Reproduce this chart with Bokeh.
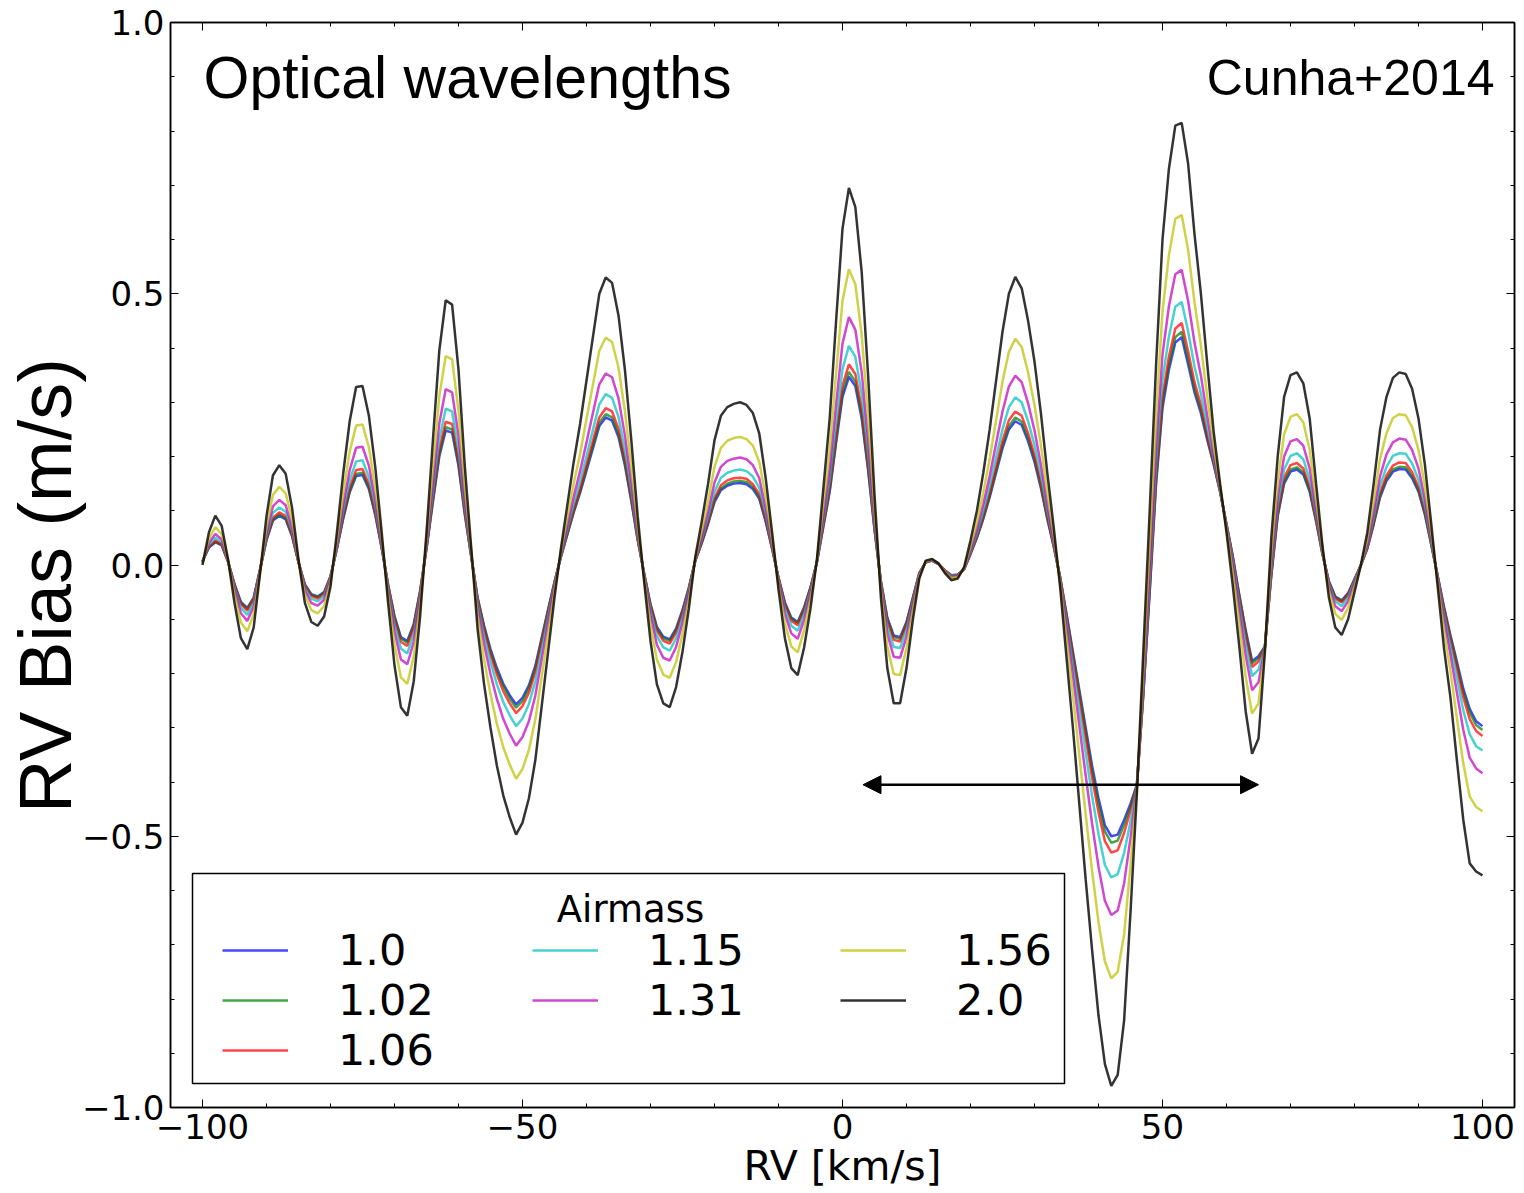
from math import pi
from bokeh.plotting import figure
from bokeh.models import (Range1d, SingleIntervalTicker, LinearAxis, CustomJSTickFormatter,
                          Legend, LegendItem, Label, Arrow, NormalHead, BoxAnnotation)
from bokeh.embed import file_html
from bokeh.resources import INLINE

# ---------------- data ----------------
RV = list(range(-100, 101))  # km/s

AIRMASS_LABELS = ["1.0", "1.02", "1.06", "1.15", "1.31", "1.56", "2.0"]

bias_100 = [
    0.007, 0.032, 0.042, 0.036, 0.006, -0.035, -0.068, -0.079, -0.060, -0.008,
    0.046, 0.082, 0.091, 0.084, 0.053, 0.005, -0.036, -0.054, -0.058, -0.050,
    -0.021, 0.030, 0.086, 0.134, 0.164, 0.166, 0.140, 0.092, 0.031, -0.036,
    -0.094, -0.133, -0.140, -0.109, -0.048, 0.030, 0.116, 0.200, 0.248, 0.244,
    0.183, 0.092, 0.015, -0.061, -0.112, -0.155, -0.190, -0.219, -0.240, -0.257,
    -0.245, -0.222, -0.186, -0.134, -0.082, -0.031, 0.015, 0.056, 0.097, 0.133,
    0.174, 0.215, 0.256, 0.272, 0.266, 0.236, 0.184, 0.118, 0.046, -0.015,
    -0.072, -0.114, -0.132, -0.137, -0.117, -0.083, -0.041, 0.008, 0.040, 0.076,
    0.116, 0.138, 0.146, 0.150, 0.151, 0.149, 0.140, 0.122, 0.080, 0.030,
    -0.023, -0.069, -0.097, -0.105, -0.078, -0.041, 0.005, 0.070, 0.135, 0.225,
    0.310, 0.347, 0.330, 0.270, 0.175, 0.065, -0.030, -0.097, -0.130, -0.133,
    -0.105, -0.060, -0.015, 0.005, 0.008, 0.002, -0.010, -0.019, -0.018, -0.008,
    0.020, 0.050, 0.085, 0.125, 0.170, 0.215, 0.250, 0.265, 0.258, 0.228,
    0.190, 0.142, 0.085, 0.034, -0.022, -0.090, -0.160, -0.230, -0.300, -0.370,
    -0.430, -0.480, -0.500, -0.497, -0.470, -0.440, -0.405, -0.240, -0.050, 0.150,
    0.290, 0.360, 0.410, 0.420, 0.370, 0.318, 0.280, 0.230, 0.185, 0.135,
    0.075, 0.015, -0.055, -0.120, -0.177, -0.168, -0.150, -0.020, 0.090, 0.150,
    0.172, 0.176, 0.167, 0.135, 0.080, 0.020, -0.030, -0.058, -0.065, -0.052,
    -0.026, 0.000, 0.030, 0.075, 0.125, 0.155, 0.172, 0.177, 0.176, 0.160,
    0.135, 0.093, 0.037, -0.020, -0.078, -0.130, -0.178, -0.228, -0.265, -0.288, -0.297,
]

bias_102 = [
    0.007, 0.033, 0.043, 0.037, 0.006, -0.036, -0.070, -0.081, -0.061, -0.008,
    0.047, 0.084, 0.093, 0.086, 0.054, 0.005, -0.037, -0.055, -0.059, -0.051,
    -0.021, 0.031, 0.088, 0.137, 0.168, 0.170, 0.143, 0.094, 0.032, -0.037,
    -0.096, -0.136, -0.143, -0.112, -0.049, 0.031, 0.119, 0.205, 0.254, 0.250,
    0.187, 0.094, 0.015, -0.062, -0.115, -0.159, -0.195, -0.224, -0.246, -0.263,
    -0.251, -0.227, -0.190, -0.137, -0.084, -0.032, 0.015, 0.057, 0.099, 0.136,
    0.178, 0.220, 0.262, 0.278, 0.272, 0.242, 0.188, 0.121, 0.047, -0.015,
    -0.074, -0.117, -0.135, -0.140, -0.120, -0.085, -0.042, 0.008, 0.041, 0.078,
    0.119, 0.141, 0.150, 0.154, 0.155, 0.153, 0.144, 0.125, 0.082, 0.031,
    -0.024, -0.071, -0.099, -0.107, -0.080, -0.042, 0.005, 0.072, 0.138, 0.231,
    0.318, 0.356, 0.338, 0.277, 0.179, 0.067, -0.031, -0.099, -0.133, -0.136,
    -0.107, -0.061, -0.015, 0.005, 0.008, 0.002, -0.010, -0.019, -0.018, -0.008,
    0.021, 0.051, 0.087, 0.128, 0.174, 0.220, 0.256, 0.272, 0.264, 0.234,
    0.195, 0.145, 0.087, 0.035, -0.022, -0.092, -0.164, -0.235, -0.307, -0.379,
    -0.440, -0.491, -0.512, -0.508, -0.479, -0.445, -0.405, -0.238, -0.046, 0.156,
    0.298, 0.369, 0.420, 0.430, 0.379, 0.325, 0.286, 0.234, 0.187, 0.135,
    0.075, 0.014, -0.057, -0.124, -0.181, -0.172, -0.150, -0.018, 0.093, 0.154,
    0.176, 0.180, 0.171, 0.138, 0.082, 0.020, -0.031, -0.059, -0.067, -0.053,
    -0.027, 0.000, 0.031, 0.077, 0.128, 0.159, 0.176, 0.181, 0.180, 0.164,
    0.138, 0.095, 0.038, -0.021, -0.080, -0.133, -0.183, -0.234, -0.272, -0.295, -0.304,
]

bias_106 = [
    0.007, 0.034, 0.045, 0.038, 0.006, -0.037, -0.072, -0.084, -0.064, -0.008,
    0.049, 0.087, 0.097, 0.090, 0.056, 0.005, -0.038, -0.057, -0.062, -0.053,
    -0.022, 0.032, 0.092, 0.143, 0.175, 0.177, 0.149, 0.098, 0.033, -0.038,
    -0.100, -0.142, -0.149, -0.116, -0.051, 0.032, 0.124, 0.213, 0.264, 0.260,
    0.195, 0.098, 0.016, -0.065, -0.119, -0.165, -0.202, -0.233, -0.255, -0.273,
    -0.260, -0.236, -0.197, -0.142, -0.087, -0.033, 0.016, 0.060, 0.103, 0.141,
    0.185, 0.229, 0.272, 0.289, 0.283, 0.251, 0.196, 0.125, 0.049, -0.016,
    -0.076, -0.121, -0.140, -0.145, -0.124, -0.088, -0.044, 0.008, 0.043, 0.081,
    0.124, 0.147, 0.156, 0.160, 0.161, 0.159, 0.149, 0.130, 0.085, 0.032,
    -0.024, -0.073, -0.103, -0.111, -0.083, -0.044, 0.005, 0.075, 0.144, 0.240,
    0.330, 0.370, 0.352, 0.288, 0.187, 0.069, -0.032, -0.103, -0.138, -0.141,
    -0.111, -0.063, -0.016, 0.005, 0.008, 0.002, -0.010, -0.020, -0.018, -0.008,
    0.022, 0.053, 0.091, 0.133, 0.181, 0.229, 0.267, 0.283, 0.275, 0.243,
    0.202, 0.151, 0.091, 0.036, -0.023, -0.095, -0.169, -0.244, -0.318, -0.392,
    -0.456, -0.509, -0.530, -0.526, -0.494, -0.453, -0.406, -0.235, -0.040, 0.165,
    0.310, 0.384, 0.436, 0.446, 0.394, 0.337, 0.295, 0.239, 0.189, 0.136,
    0.074, 0.011, -0.061, -0.130, -0.188, -0.178, -0.151, -0.015, 0.097, 0.161,
    0.184, 0.188, 0.178, 0.144, 0.085, 0.021, -0.032, -0.062, -0.069, -0.055,
    -0.028, 0.000, 0.032, 0.080, 0.133, 0.165, 0.183, 0.189, 0.188, 0.171,
    0.144, 0.099, 0.040, -0.021, -0.083, -0.138, -0.190, -0.244, -0.284, -0.306, -0.315,
]

bias_115 = [
    0.006, 0.037, 0.050, 0.042, 0.007, -0.041, -0.079, -0.092, -0.069, -0.009,
    0.053, 0.096, 0.106, 0.098, 0.062, 0.006, -0.042, -0.062, -0.067, -0.057,
    -0.024, 0.035, 0.100, 0.156, 0.191, 0.193, 0.162, 0.107, 0.036, -0.042,
    -0.109, -0.154, -0.163, -0.127, -0.056, 0.035, 0.135, 0.232, 0.288, 0.283,
    0.212, 0.107, 0.017, -0.071, -0.130, -0.179, -0.220, -0.253, -0.277, -0.297,
    -0.283, -0.256, -0.215, -0.155, -0.095, -0.036, 0.017, 0.065, 0.112, 0.154,
    0.201, 0.249, 0.296, 0.315, 0.308, 0.273, 0.213, 0.136, 0.053, -0.017,
    -0.083, -0.131, -0.152, -0.158, -0.135, -0.096, -0.047, 0.009, 0.047, 0.088,
    0.135, 0.161, 0.170, 0.174, 0.176, 0.173, 0.163, 0.142, 0.093, 0.035,
    -0.027, -0.080, -0.112, -0.121, -0.090, -0.047, 0.006, 0.082, 0.157, 0.262,
    0.361, 0.404, 0.384, 0.315, 0.204, 0.076, -0.035, -0.112, -0.151, -0.153,
    -0.119, -0.067, -0.017, 0.005, 0.008, 0.002, -0.011, -0.020, -0.019, -0.007,
    0.024, 0.058, 0.099, 0.146, 0.198, 0.250, 0.291, 0.309, 0.300, 0.265,
    0.221, 0.165, 0.099, 0.040, -0.025, -0.103, -0.183, -0.265, -0.346, -0.426,
    -0.496, -0.553, -0.576, -0.570, -0.531, -0.473, -0.407, -0.227, -0.025, 0.186,
    0.341, 0.421, 0.476, 0.485, 0.431, 0.366, 0.316, 0.253, 0.195, 0.137,
    0.073, 0.006, -0.071, -0.145, -0.205, -0.193, -0.152, -0.008, 0.108, 0.176,
    0.201, 0.206, 0.195, 0.157, 0.092, 0.022, -0.035, -0.067, -0.076, -0.060,
    -0.030, 0.000, 0.035, 0.087, 0.146, 0.181, 0.201, 0.206, 0.205, 0.187,
    0.157, 0.108, 0.043, -0.023, -0.091, -0.149, -0.208, -0.268, -0.312, -0.334, -0.342,
]

bias_131 = [
    0.005, 0.041, 0.057, 0.047, 0.007, -0.046, -0.089, -0.103, -0.077, -0.010,
    0.060, 0.108, 0.120, 0.110, 0.069, 0.007, -0.047, -0.070, -0.075, -0.064,
    -0.027, 0.039, 0.112, 0.175, 0.216, 0.218, 0.183, 0.120, 0.040, -0.047,
    -0.123, -0.174, -0.183, -0.142, -0.063, 0.039, 0.152, 0.261, 0.324, 0.318,
    0.239, 0.120, 0.020, -0.080, -0.146, -0.201, -0.247, -0.284, -0.311, -0.333,
    -0.317, -0.288, -0.241, -0.174, -0.107, -0.040, 0.020, 0.073, 0.126, 0.173,
    0.226, 0.280, 0.333, 0.353, 0.346, 0.307, 0.239, 0.153, 0.060, -0.020,
    -0.093, -0.147, -0.171, -0.176, -0.151, -0.107, -0.053, 0.010, 0.053, 0.099,
    0.152, 0.181, 0.192, 0.196, 0.198, 0.195, 0.184, 0.160, 0.105, 0.039,
    -0.030, -0.090, -0.126, -0.136, -0.101, -0.053, 0.007, 0.092, 0.178, 0.296,
    0.408, 0.457, 0.434, 0.355, 0.230, 0.085, -0.039, -0.126, -0.169, -0.171,
    -0.132, -0.073, -0.018, 0.006, 0.009, 0.002, -0.012, -0.022, -0.020, -0.007,
    0.028, 0.066, 0.112, 0.164, 0.224, 0.283, 0.329, 0.349, 0.337, 0.298,
    0.248, 0.185, 0.112, 0.045, -0.028, -0.115, -0.204, -0.296, -0.388, -0.477,
    -0.556, -0.619, -0.645, -0.637, -0.587, -0.503, -0.410, -0.215, -0.003, 0.219,
    0.388, 0.477, 0.536, 0.544, 0.487, 0.410, 0.349, 0.274, 0.204, 0.140,
    0.070, -0.002, -0.085, -0.167, -0.231, -0.216, -0.153, 0.002, 0.125, 0.200,
    0.228, 0.232, 0.220, 0.178, 0.102, 0.025, -0.039, -0.076, -0.085, -0.067,
    -0.034, 0.000, 0.039, 0.099, 0.164, 0.204, 0.226, 0.233, 0.231, 0.212,
    0.178, 0.122, 0.049, -0.026, -0.102, -0.166, -0.235, -0.304, -0.355, -0.375, -0.384,
]

bias_156 = [
    0.003, 0.048, 0.070, 0.057, 0.008, -0.055, -0.106, -0.122, -0.091, -0.012,
    0.071, 0.129, 0.144, 0.132, 0.083, 0.008, -0.055, -0.083, -0.089, -0.076,
    -0.032, 0.047, 0.134, 0.209, 0.257, 0.259, 0.217, 0.142, 0.048, -0.055,
    -0.146, -0.207, -0.219, -0.169, -0.075, 0.047, 0.181, 0.311, 0.385, 0.379,
    0.284, 0.142, 0.024, -0.095, -0.174, -0.238, -0.293, -0.336, -0.368, -0.394,
    -0.376, -0.341, -0.285, -0.206, -0.126, -0.048, 0.024, 0.087, 0.150, 0.205,
    0.269, 0.332, 0.395, 0.419, 0.411, 0.364, 0.284, 0.182, 0.071, -0.024,
    -0.111, -0.174, -0.202, -0.208, -0.179, -0.127, -0.063, 0.012, 0.063, 0.118,
    0.181, 0.216, 0.229, 0.234, 0.236, 0.232, 0.220, 0.190, 0.126, 0.047,
    -0.036, -0.107, -0.150, -0.161, -0.120, -0.063, 0.008, 0.110, 0.212, 0.353,
    0.487, 0.545, 0.518, 0.424, 0.275, 0.102, -0.047, -0.150, -0.201, -0.203,
    -0.153, -0.083, -0.021, 0.007, 0.010, 0.003, -0.013, -0.024, -0.022, -0.006,
    0.034, 0.079, 0.133, 0.196, 0.267, 0.338, 0.393, 0.417, 0.402, 0.355,
    0.295, 0.221, 0.133, 0.055, -0.032, -0.136, -0.240, -0.350, -0.460, -0.564,
    -0.658, -0.731, -0.762, -0.750, -0.681, -0.554, -0.414, -0.194, 0.036, 0.275,
    0.467, 0.571, 0.638, 0.645, 0.581, 0.484, 0.405, 0.310, 0.219, 0.144,
    0.066, -0.016, -0.109, -0.206, -0.274, -0.255, -0.156, 0.020, 0.153, 0.241,
    0.273, 0.278, 0.263, 0.212, 0.120, 0.029, -0.047, -0.090, -0.101, -0.079,
    -0.040, 0.000, 0.047, 0.118, 0.196, 0.243, 0.271, 0.278, 0.276, 0.254,
    0.212, 0.145, 0.059, -0.031, -0.122, -0.196, -0.282, -0.366, -0.427, -0.446, -0.454,
]

bias_200 = [
    0.000, 0.060, 0.091, 0.072, 0.010, -0.070, -0.135, -0.155, -0.115, -0.015,
    0.090, 0.165, 0.184, 0.168, 0.105, 0.010, -0.070, -0.105, -0.112, -0.095,
    -0.040, 0.060, 0.170, 0.265, 0.328, 0.330, 0.275, 0.180, 0.060, -0.070,
    -0.185, -0.262, -0.278, -0.215, -0.095, 0.060, 0.230, 0.395, 0.488, 0.480,
    0.360, 0.180, 0.030, -0.120, -0.220, -0.300, -0.370, -0.425, -0.465, -0.497,
    -0.475, -0.430, -0.360, -0.260, -0.160, -0.060, 0.030, 0.110, 0.190, 0.260,
    0.340, 0.420, 0.500, 0.530, 0.520, 0.460, 0.360, 0.230, 0.090, -0.030,
    -0.140, -0.220, -0.255, -0.262, -0.225, -0.160, -0.080, 0.015, 0.080, 0.150,
    0.230, 0.275, 0.291, 0.297, 0.300, 0.295, 0.280, 0.242, 0.160, 0.060,
    -0.045, -0.135, -0.190, -0.203, -0.152, -0.080, 0.010, 0.140, 0.270, 0.450,
    0.620, 0.695, 0.660, 0.540, 0.350, 0.130, -0.060, -0.190, -0.255, -0.255,
    -0.190, -0.100, -0.025, 0.008, 0.011, 0.003, -0.015, -0.028, -0.025, -0.004,
    0.045, 0.100, 0.170, 0.250, 0.340, 0.430, 0.500, 0.531, 0.510, 0.450,
    0.375, 0.280, 0.170, 0.070, -0.040, -0.170, -0.300, -0.440, -0.580, -0.710,
    -0.830, -0.920, -0.960, -0.940, -0.840, -0.640, -0.420, -0.160, 0.100, 0.370,
    0.600, 0.730, 0.810, 0.815, 0.740, 0.610, 0.500, 0.370, 0.245, 0.150,
    0.060, -0.040, -0.150, -0.270, -0.348, -0.320, -0.160, 0.050, 0.200, 0.310,
    0.350, 0.355, 0.335, 0.270, 0.150, 0.035, -0.060, -0.115, -0.129, -0.100,
    -0.050, 0.000, 0.060, 0.150, 0.250, 0.310, 0.345, 0.355, 0.352, 0.325,
    0.270, 0.185, 0.075, -0.040, -0.155, -0.245, -0.360, -0.470, -0.550, -0.565, -0.572,
]

SERIES = [bias_100, bias_102, bias_106, bias_115, bias_131, bias_156, bias_200]
COLORS = ["#0000ff", "#008000", "#ff0000", "#00bfbf", "#bf00bf", "#bfbf00", "#000000"]

# arrow annotation (km/s, m/s)
ARROW_X = (3.2, 65.0)
ARROW_Y = -0.405

# ---------------- figure ----------------
p = figure(width=1524, height=1193, output_backend="svg", toolbar_location=None,
           x_range=Range1d(-105, 105), y_range=Range1d(-1, 1),
           min_border_left=170, min_border_right=10, min_border_top=22, min_border_bottom=86)
p.background_fill_color = "white"
p.border_fill_color = "white"
p.xgrid.visible = False
p.ygrid.visible = False
p.outline_line_color = "black"
p.outline_line_width = 1.5

xt = SingleIntervalTicker(interval=50, num_minor_ticks=5)
yt = SingleIntervalTicker(interval=0.5, num_minor_ticks=5)
xfmt = CustomJSTickFormatter(code="return (tick < 0 ? '\\u2212' : '') + Math.abs(tick).toFixed(0);")
yfmt = CustomJSTickFormatter(code="return (tick < -1e-9 ? '\\u2212' : '') + Math.abs(tick).toFixed(1);")
blank = CustomJSTickFormatter(code="return '';")

def style_axis(ax):
    ax.major_tick_in = 8
    ax.major_tick_out = 0
    ax.minor_tick_in = 4
    ax.minor_tick_out = 0
    ax.major_tick_line_color = "black"
    ax.minor_tick_line_color = "black"
    ax.major_tick_line_width = 1
    ax.minor_tick_line_width = 1
    ax.axis_line_color = "black"
    ax.axis_line_width = 1.5
    ax.major_label_text_font = "DejaVu Sans"
    ax.major_label_text_font_size = "34px"
    ax.major_label_text_color = "black"

xa = p.xaxis[0]
xa.ticker = xt
xa.formatter = xfmt
style_axis(xa)
xa.major_label_standoff = 6
xa.axis_label = "RV [km/s]"
xa.axis_label_text_font = "DejaVu Sans"
xa.axis_label_text_font_size = "41px"
xa.axis_label_text_font_style = "normal"
xa.axis_label_text_color = "black"
xa.axis_label_standoff = 0

ya = p.yaxis[0]
ya.ticker = yt
ya.formatter = yfmt
style_axis(ya)
ya.major_label_standoff = 6
ya.axis_label = "RV Bias (m/s)\u00a0\u00a0"
ya.axis_label_text_font = "Liberation Sans"
ya.axis_label_text_font_size = "74px"
ya.axis_label_text_font_style = "normal"
ya.axis_label_text_color = "black"
ya.axis_label_standoff = -8

top = LinearAxis(ticker=xt, formatter=blank)
style_axis(top)
top.major_label_standoff = 0
p.add_layout(top, "above")
right = LinearAxis(ticker=yt, formatter=blank)
style_axis(right)
right.major_label_standoff = 0
p.add_layout(right, "right")

renderers = []
for ys, col in zip(SERIES, COLORS):
    alpha = 0.8 if col == "#000000" else 0.72
    r = p.line(RV, ys, line_color=col, line_width=2.5, line_alpha=alpha)
    renderers.append(r)

# double-headed arrow
p.add_layout(Arrow(x_start=ARROW_X[0], y_start=ARROW_Y, x_end=ARROW_X[1], y_end=ARROW_Y,
                   line_color="black", line_width=2.5,
                   start=NormalHead(size=18, fill_color="black", line_color="black"),
                   end=NormalHead(size=18, fill_color="black", line_color="black")))

# legend frame + title
p.add_layout(BoxAnnotation(left=192, right=1064, top=873, bottom=1083,
                           left_units="canvas", right_units="canvas",
                           top_units="canvas", bottom_units="canvas",
                           fill_color="white", fill_alpha=1.0,
                           line_color="black", line_width=1.5, line_alpha=1.0))
p.add_layout(Label(x=630, y=909, x_units="canvas", y_units="canvas", text="Airmass",
                   text_align="center", text_baseline="alphabetic",
                   text_font="DejaVu Sans", text_font_size="37px", text_color="black"))

def make_legend(idx, loc):
    items = [LegendItem(label=AIRMASS_LABELS[i], renderers=[renderers[i]]) for i in idx]
    lg = Legend(items=items, location=loc, orientation="vertical",
                border_line_color=None, background_fill_alpha=0.0,
                padding=0, margin=0, spacing=-1,
                glyph_width=66, glyph_height=44, label_height=44, label_standoff=50,
                label_text_font="DejaVu Sans", label_text_font_size="43px",
                label_text_color="black")
    p.add_layout(lg)

make_legend([0, 1, 2], (52, 32))
make_legend([3, 4], (362, 82))
make_legend([5, 6], (670, 82))

# texts
p.add_layout(Label(x=203, y=77, x_units="canvas", y_units="canvas", text="Optical wavelengths",
                   text_align="left", text_baseline="alphabetic",
                   text_font="Liberation Sans", text_font_size="59px", text_color="black"))
p.add_layout(Label(x=1494, y=77, x_units="canvas", y_units="canvas", text="Cunha+2014",
                   text_align="right", text_baseline="alphabetic",
                   text_font="Liberation Sans", text_font_size="50px", text_color="black"))

open("out.html", "w").write(file_html(p, INLINE))
